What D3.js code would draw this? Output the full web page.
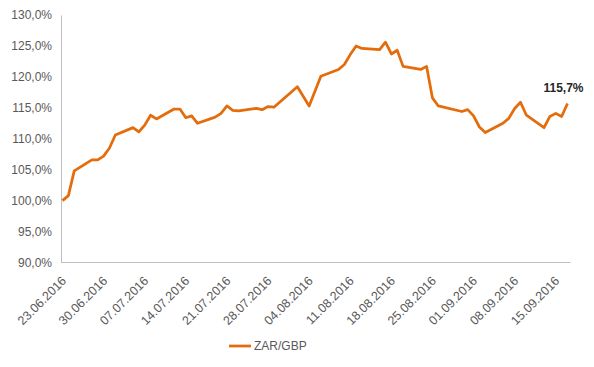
<!DOCTYPE html>
<html><head><meta charset="utf-8">
<script src="https://cdn.jsdelivr.net/npm/d3@7"></script>
<style>
body{margin:0;background:#fff;}
svg{display:block;font-family:"Liberation Sans",Arial,sans-serif;}
</style></head>
<body><svg id="c" width="594" height="367"></svg>
<script>
// Trading dates and ZAR/GBP index values (%), base 22.06.2016 = 100
const dates = ["2016-06-22","2016-06-23","2016-06-24","2016-06-27","2016-06-28","2016-06-29","2016-06-30","2016-07-01",
"2016-07-04","2016-07-05","2016-07-06","2016-07-07","2016-07-08","2016-07-11","2016-07-12","2016-07-13","2016-07-14","2016-07-15",
"2016-07-18","2016-07-19","2016-07-20","2016-07-21","2016-07-22","2016-07-25","2016-07-26","2016-07-27","2016-07-28",
"2016-08-01","2016-08-03","2016-08-05","2016-08-08","2016-08-09","2016-08-10","2016-08-11","2016-08-12",
"2016-08-15","2016-08-16","2016-08-17","2016-08-18","2016-08-19","2016-08-22","2016-08-23","2016-08-24","2016-08-25",
"2016-08-29","2016-08-30","2016-08-31","2016-09-01","2016-09-02","2016-09-05","2016-09-06","2016-09-07","2016-09-08","2016-09-09",
"2016-09-12","2016-09-13","2016-09-14","2016-09-15","2016-09-16"];
const values = [100.0,100.8,104.8,106.6,106.6,107.2,108.5,110.6,111.8,111.1,112.2,113.8,113.2,114.8,114.8,113.4,113.7,112.5,113.5,114.1,115.3,114.6,114.5,114.9,114.7,115.2,115.1,118.4,115.3,120.1,121.2,122.0,123.6,125.0,124.6,124.4,125.6,123.7,124.3,121.7,121.2,121.7,116.6,115.3,114.4,114.7,113.7,111.9,111.0,112.5,113.3,114.9,115.9,113.8,111.8,113.6,114.1,113.6,115.7];
const tickLabels = ["23.06.2016","30.06.2016","07.07.2016","14.07.2016","21.07.2016","28.07.2016","04.08.2016","11.08.2016","18.08.2016","25.08.2016","01.09.2016","08.09.2016","15.09.2016"];
const yTicks = [90,95,100,105,110,115,120,125,130];
const seriesName = "ZAR/GBP";
const lastLabel = "115,7%";

const svg = d3.select("#c");
const color = "#e46c0a";
const grey = "#595959";
const parseISO = d3.timeParse("%Y-%m-%d");
const parseLbl = d3.timeParse("%d.%m.%Y");

const data = dates.map((d, i) => ({t: parseISO(d), v: values[i]}));

const x = d3.scaleTime().domain(d3.extent(data, p => p.t)).range([62.5, 567.5]);
const y = d3.scaleLinear().domain([90, 130]).range([262.5, 15]);

const loc = d3.formatLocale({decimal: ",", thousands: ".", grouping: [3], currency: ["", ""]});
const fmt = v => loc.format(".1f")(v) + "%";

// Y axis
const gy = svg.append("g").attr("transform", "translate(61,0)")
  .call(d3.axisLeft(y).tickValues(yTicks).tickFormat(fmt).tickSizeInner(0).tickSizeOuter(0).tickPadding(9));
gy.select(".domain").attr("stroke", "#bfbfbf").attr("stroke-width", 1);
gy.selectAll("text").attr("fill", grey).attr("font-size", 12).attr("font-family", "Liberation Sans, Arial, sans-serif");

// X axis line
svg.append("line")
  .attr("x1", 61).attr("x2", x.range()[1] + 3)
  .attr("y1", y(90)).attr("y2", y(90))
  .attr("stroke", "#bfbfbf").attr("stroke-width", 1);

// X tick labels
const tickDates = tickLabels.map(parseLbl);
const gx = svg.append("g").attr("transform", `translate(0,${y(90)})`)
  .call(d3.axisBottom(x).tickValues(tickDates).tickFormat(d3.timeFormat("%d.%m.%Y")).tickSize(0).tickPadding(0));
gx.select(".domain").remove();
gx.selectAll("text")
  .attr("fill", grey).attr("font-size", 12.5).attr("font-family", "Liberation Sans, Arial, sans-serif")
  .attr("text-anchor", "end")
  .attr("dy", "0.35em")
  .attr("transform", "translate(-5,16) rotate(-45)")
  .attr("y", 0).attr("x", 0);

// Line
svg.append("path").datum(data)
  .attr("fill", "none").attr("stroke", color).attr("stroke-width", 2.75)
  .attr("stroke-linejoin", "round").attr("stroke-linecap", "butt")
  .attr("d", d3.line().x(p => x(p.t)).y(p => y(p.v)));

// Data label on last point
const last = data[data.length - 1];
svg.append("text")
  .attr("x", x(last.t) - 4).attr("y", y(last.v) - 11)
  .attr("text-anchor", "middle")
  .attr("font-size", 12).attr("font-weight", "bold").attr("fill", "#262626")
  .text(lastLabel);

// Legend
const lg = svg.append("g").attr("transform", "translate(229,346)");
lg.append("line").attr("x1", 0).attr("x2", 22).attr("y1", 0).attr("y2", 0)
  .attr("stroke", color).attr("stroke-width", 2.75);
lg.append("text").attr("x", 25).attr("y", 0).attr("dy", "0.35em")
  .attr("font-size", 12).attr("fill", grey).text(seriesName);
</script></body></html>
